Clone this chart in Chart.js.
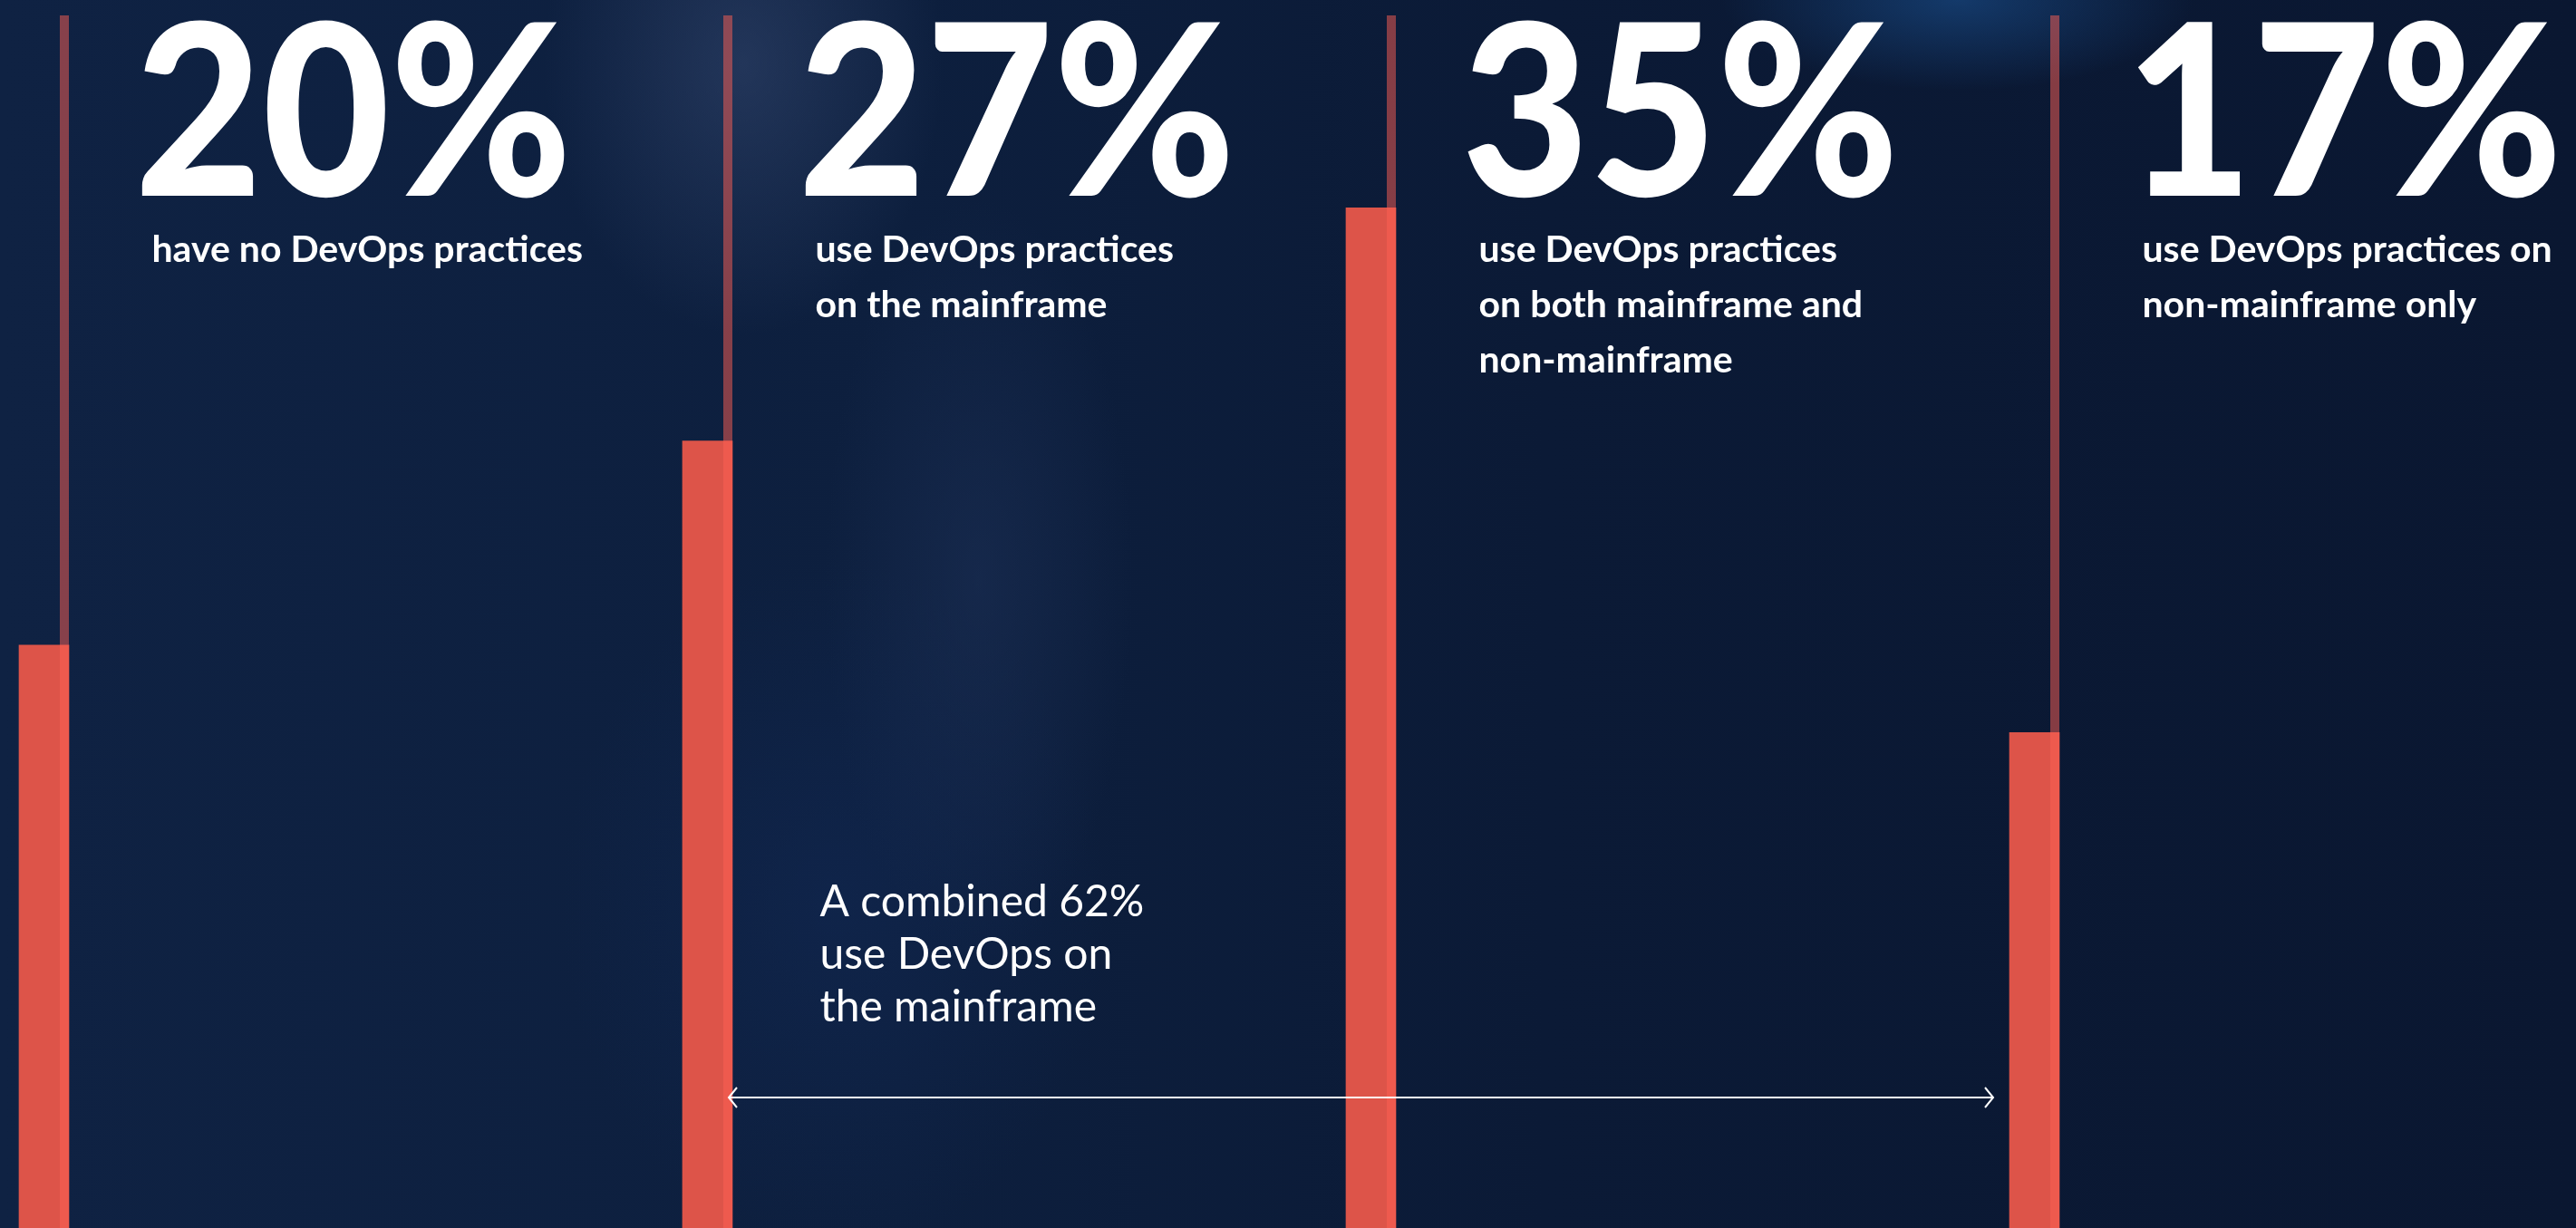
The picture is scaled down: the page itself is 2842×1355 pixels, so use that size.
<!DOCTYPE html>
<html>
<head>
<meta charset="utf-8">
<script src="https://cdn.jsdelivr.net/npm/chart.js@4/dist/chart.umd.min.js"></script>
<style>
  html, body { margin: 0; padding: 0; overflow: hidden; background: #0b1a35; }
  #wrap {
    position: relative; width: 2842px; height: 1355px;
    background:
      radial-gradient(ellipse 220px 300px at 820px 70px, rgba(52,72,112,0.55), rgba(52,72,112,0) 100%),
      radial-gradient(ellipse 260px 100px at 2160px 0px, rgba(22,66,120,0.8), rgba(22,66,120,0) 100%),
      radial-gradient(ellipse 170px 420px at 1080px 640px, rgba(32,52,92,0.45), rgba(32,52,92,0) 100%),
      radial-gradient(ellipse 300px 380px at 920px 1000px, rgba(18,42,88,0.45), rgba(18,42,88,0) 100%),
      linear-gradient(to right, #0f2243 0%, #0d1f3e 35%, #0b1a36 60%, #0a1731 100%);
  }
</style>
</head>
<body>
<div id="wrap"><canvas id="c"></canvas></div>
<script>
// ---- data ----
const categories = [
  "have no DevOps practices",
  "use DevOps practices on the mainframe",
  "use DevOps practices on both mainframe and non-mainframe",
  "use DevOps practices on non-mainframe only"
];
const shares = [20, 27, 35, 17];
const captionLines = [
  ["have no DevOps practices"],
  ["use DevOps practices", "on the mainframe"],
  ["use DevOps practices", "on both mainframe and", "non-mainframe"],
  ["use DevOps practices on", "non-mainframe only"]
];
const combinedLines = ["A combined " + (shares[1] + shares[2]) + "%", "use DevOps on", "the mainframe"];
const axisMax = 41.6;

// ---- plugins ----
const trackPlugin = {
  id: 'track',
  afterDatasetsDraw(chart) {
    const ctx = chart.ctx, area = chart.chartArea;
    const meta = chart.getDatasetMeta(0);
    ctx.save();
    ctx.fillStyle = 'rgba(255,95,83,0.5)';
    meta.data.forEach(bar => {
      const right = bar.x + bar.width / 2;
      ctx.fillRect(right - 10, area.top, 10, area.bottom - area.top);
    });
    ctx.restore();
  }
};

const textPlugin = {
  id: 'texts',
  afterDraw(chart) {
    const ctx = chart.ctx;
    const meta = chart.getDatasetMeta(0);
    ctx.save();
    ctx.fillStyle = '#ffffff';
    ctx.textBaseline = 'alphabetic';
    ctx.textAlign = 'left';
    meta.data.forEach((bar, i) => {
      const x = bar.x + 100;
      ctx.save();
      ctx.translate(x, 216);
      ctx.scale(0.92, 1);
      ctx.font = '900 264px Lato';
      ctx.fillText(shares[i] + '%', 0, 0);
      ctx.restore();
      ctx.font = '700 41px Lato';
      captionLines[i].forEach((ln, k) => {
        ctx.fillText(ln, bar.x + 119, 289 + k * 61);
      });
    });
    // combined annotation
    const b1 = meta.data[1], b3 = meta.data[3];
    ctx.font = '400 48px Lato';
    combinedLines.forEach((ln, k) => {
      ctx.fillText(ln, b1.x + 124, 1011 + k * 58);
    });
    // arrow
    const y = 1211;
    const x1 = b1.x + b1.width / 2 - 4;
    const x2 = b3.x - b3.width / 2 - 18;
    ctx.strokeStyle = '#ffffff';
    ctx.lineWidth = 2;
    ctx.beginPath();
    ctx.moveTo(x1, y); ctx.lineTo(x2, y);
    ctx.moveTo(x1 + 9, y - 11); ctx.lineTo(x1, y); ctx.lineTo(x1 + 9, y + 11);
    ctx.moveTo(x2 - 9, y - 11); ctx.lineTo(x2, y); ctx.lineTo(x2 - 9, y + 11);
    ctx.stroke();
    ctx.restore();
  }
};

const canvas = document.getElementById('c');
new Chart(canvas, {
  type: 'bar',
  data: {
    labels: categories,
    datasets: [{
      label: 'Share of respondents',
      data: shares,
      backgroundColor: '#dd5449',
      borderWidth: 0,
      barThickness: 55,
      clip: false
    }]
  },
  options: {
    responsive: true,
    maintainAspectRatio: false,
    animation: false,
    events: [],
    layout: { padding: { left: 48.5, right: 597.5, top: 17, bottom: 0 } },
    plugins: { legend: { display: false }, tooltip: { enabled: false }, title: { display: false } },
    scales: {
      x: { type: 'category', offset: false, display: false, grid: { display: false } },
      y: { min: 0, max: axisMax, display: false, grid: { display: false } }
    }
  },
  plugins: [trackPlugin, textPlugin]
});
</script>
</body>
</html>
